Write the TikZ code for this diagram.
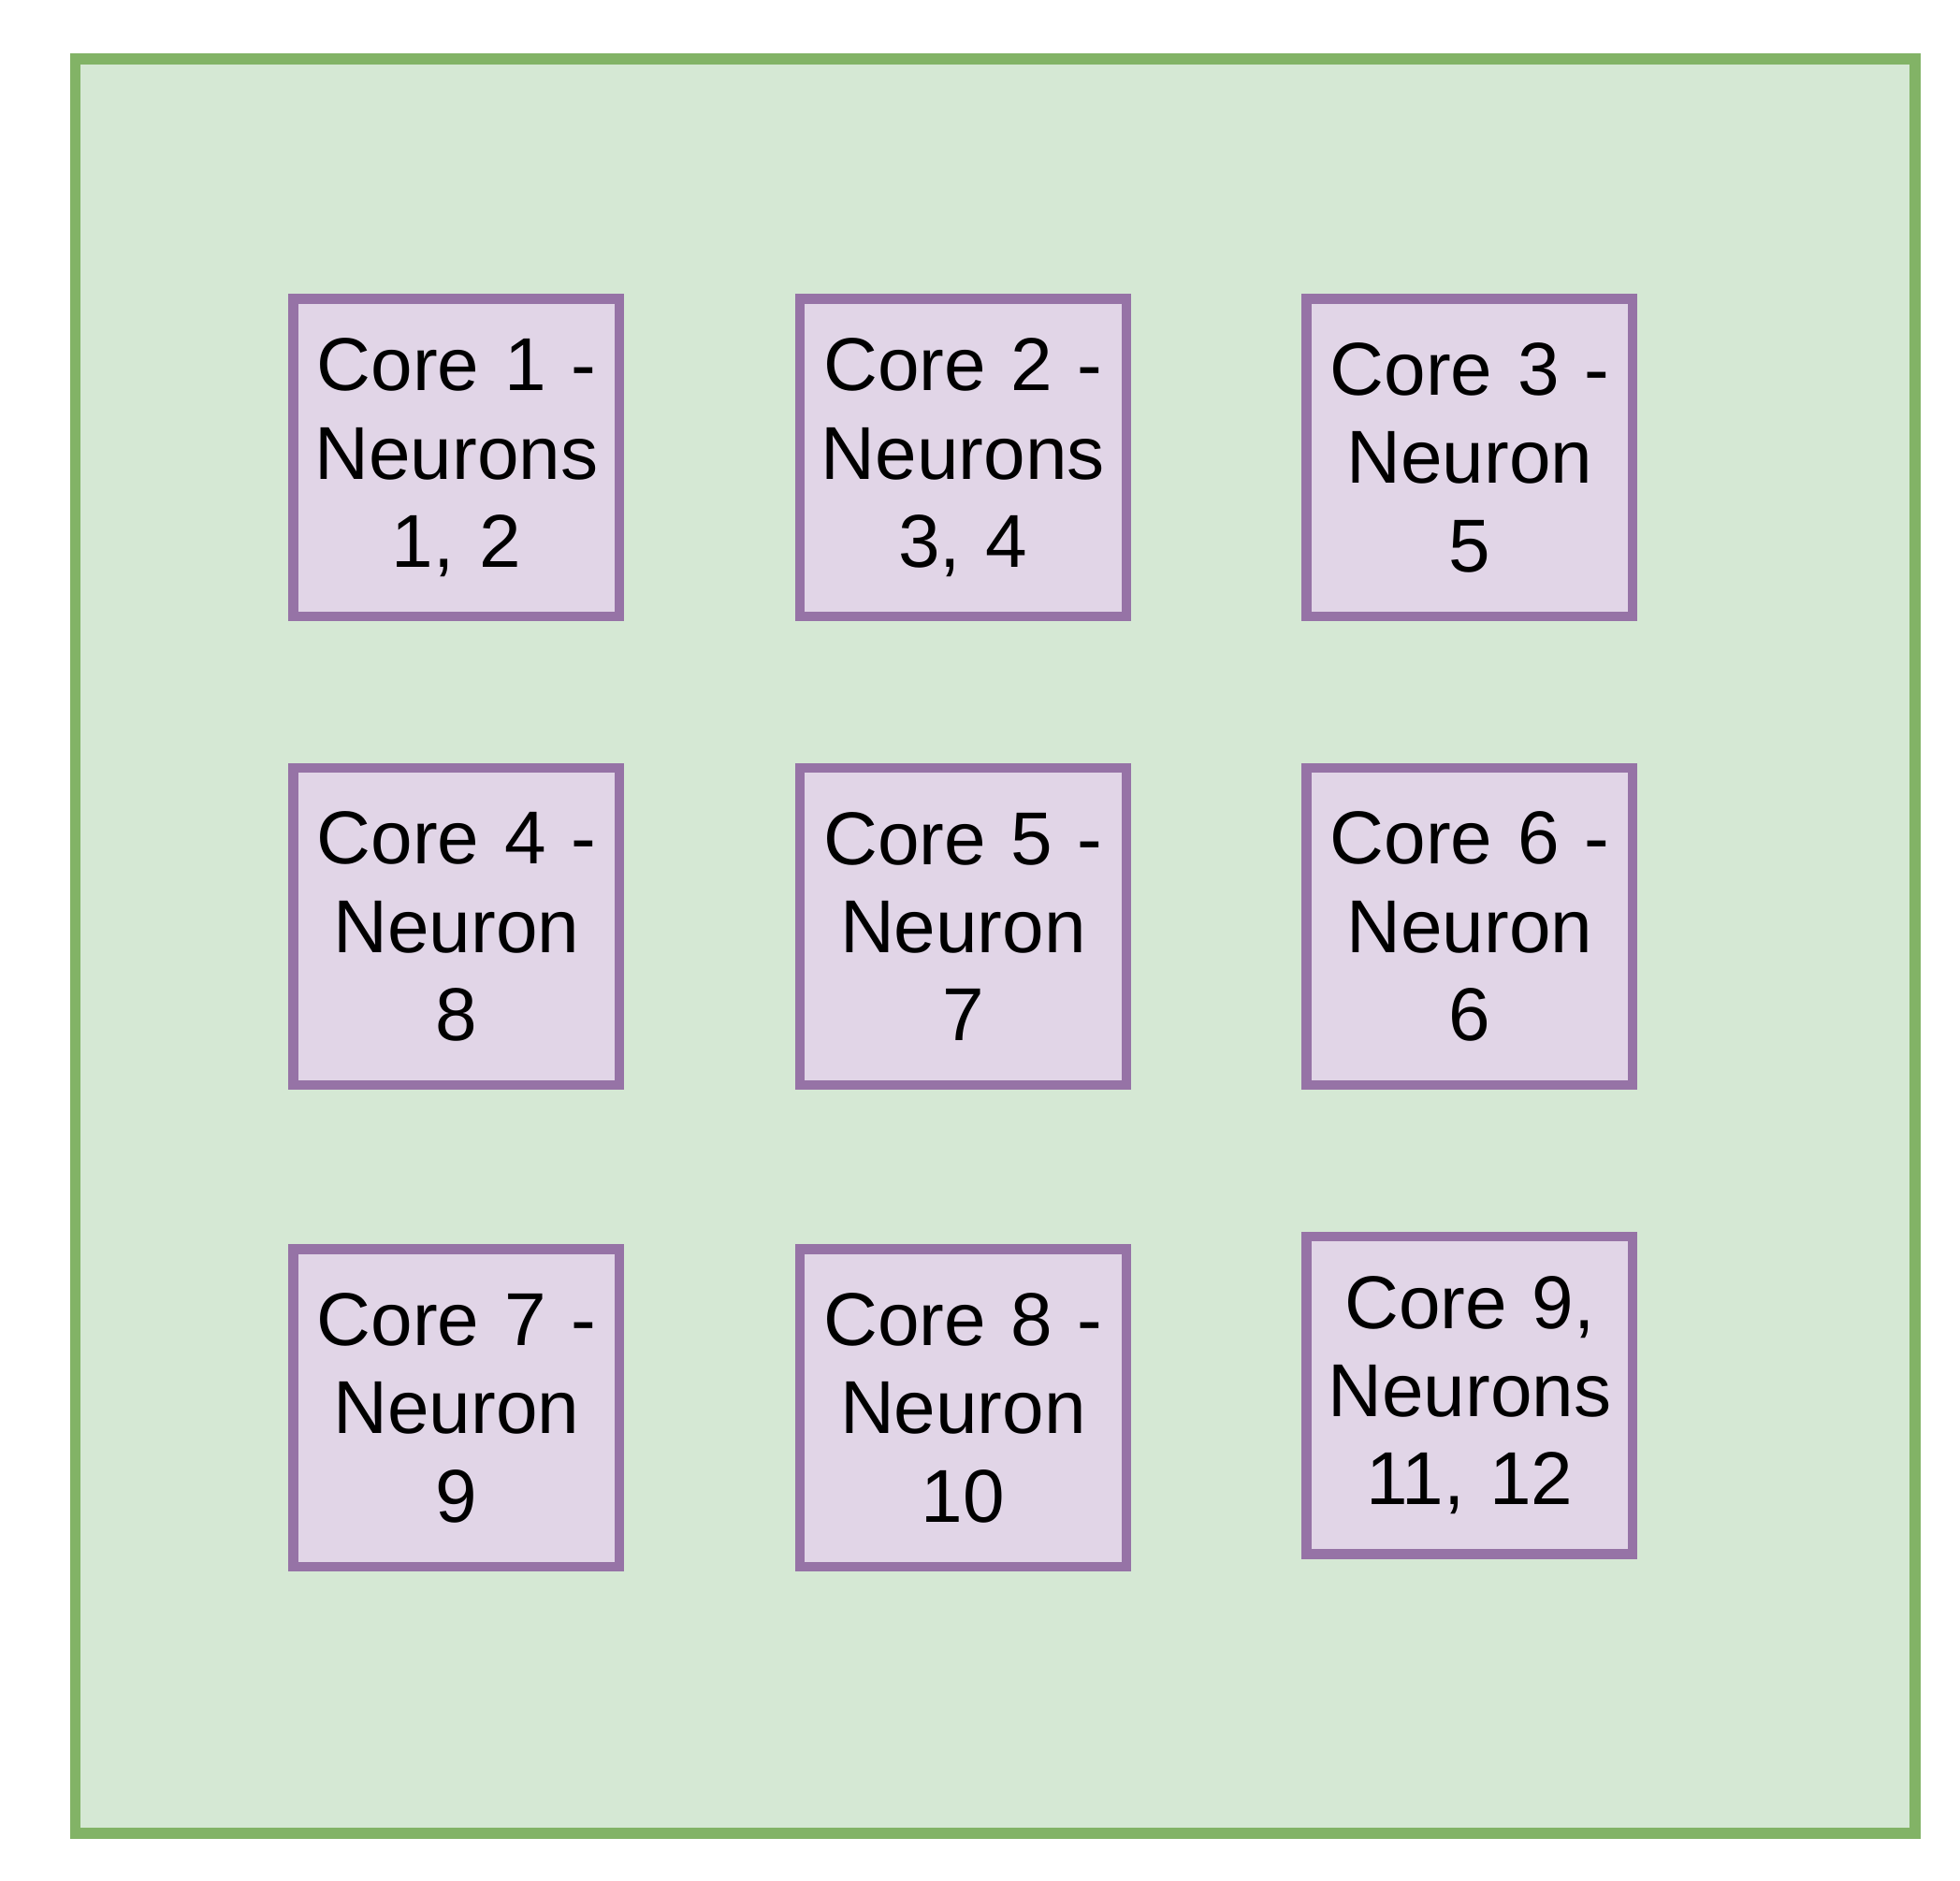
\documentclass[tikz,border=0pt]{standalone}
\usepackage{fontspec}
\setmainfont{Liberation Sans}
\definecolor{gfill}{HTML}{D5E8D4}
\definecolor{gline}{HTML}{82B366}
\definecolor{pfill}{HTML}{E1D5E7}
\definecolor{pline}{HTML}{9673A6}
\begin{document}
\begin{tikzpicture}[x=0.01cm,y=-0.01cm,
  core/.style={draw=pline,fill=pfill,line width=2.2pt,minimum width=2.54cm,minimum height=2.53cm,
    text width=2.6cm,align=center,inner sep=0pt,font=\fontsize{17}{20}\selectfont}]
\useasboundingbox (0,0) rectangle (1563,1500);
\draw[draw=gline,fill=gfill,line width=2.5pt] (60,47) rectangle (1527,1462);
\node[core] (c1) at (364,365) {Core 1 -\\Neurons\\1, 2};
\node[core] (c2) at (768,365) {Core 2 -\\Neurons\\3, 4};
\node[core] (c3) at (1172,365) {Core 3 -\\Neuron\\5};
\node[core] (c4) at (364,739) {Core 4 -\\Neuron\\8};
\node[core] (c5) at (768,739) {Core 5 -\\Neuron\\7};
\node[core] (c6) at (1172,739) {Core 6 -\\Neuron\\6};
\node[core] (c7) at (364,1123) {Core 7 -\\Neuron\\9};
\node[core] (c8) at (768,1123) {Core 8 -\\Neuron\\10};
\node[core] (c9) at (1172,1113) {Core 9,\\Neurons\\11, 12};
\end{tikzpicture}
\end{document}
